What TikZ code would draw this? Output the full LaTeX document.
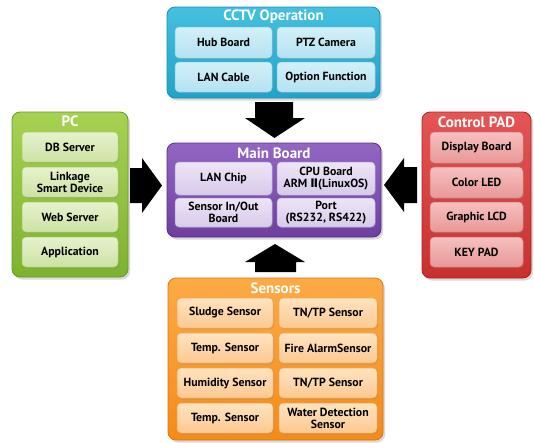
\documentclass[tikz,border=0pt]{standalone}
\usepackage{fontspec}
\setmainfont{PT Sans}
\newfontfamily\numfont{DejaVu Sans}
\usetikzlibrary{shadows}

% group colours: light top, darker bottom, border; item top, item bottom, item border
\definecolor{cyA}{HTML}{45C0DF}\definecolor{cyB}{HTML}{1FA3C9}\definecolor{cyD}{HTML}{1A8FB2}
\definecolor{cyI}{HTML}{D3F0F9}\definecolor{cyJ}{HTML}{B4E2F1}\definecolor{cyK}{HTML}{8CCDE3}
\definecolor{puA}{HTML}{9366C4}\definecolor{puB}{HTML}{6E3FA0}\definecolor{puD}{HTML}{5A2E88}
\definecolor{puI}{HTML}{EDE5F6}\definecolor{puJ}{HTML}{D7CAEA}\definecolor{puK}{HTML}{B7A2D4}
\definecolor{grA}{HTML}{A6D252}\definecolor{grB}{HTML}{7DB22F}\definecolor{grD}{HTML}{679A26}
\definecolor{grI}{HTML}{E6F2CD}\definecolor{grJ}{HTML}{CDE2A3}\definecolor{grK}{HTML}{A9CB73}
\definecolor{rdA}{HTML}{E55555}\definecolor{rdB}{HTML}{C8302F}\definecolor{rdD}{HTML}{A82525}
\definecolor{rdI}{HTML}{F6C0C0}\definecolor{rdJ}{HTML}{E99797}\definecolor{rdK}{HTML}{CF7171}
\definecolor{orA}{HTML}{FDAA45}\definecolor{orB}{HTML}{F48B18}\definecolor{orD}{HTML}{DB760B}
\definecolor{orI}{HTML}{FFE3C0}\definecolor{orJ}{HTML}{FCC991}\definecolor{orK}{HTML}{E9A866}

\tikzset{
  cont/.style n args={3}{rounded corners=8pt, top color=#1, bottom color=#2, draw=#3,
    line width=0.8pt, inner sep=0pt,
    drop shadow={shadow xshift=2pt, shadow yshift=-2.5pt, opacity=0.3}},
  item/.style n args={3}{rounded corners=4pt, top color=#1, bottom color=#2, draw=#3,
    line width=0.5pt, inner sep=0pt, align=center, text=black,
    font=\fontsize{11.8}{11.8}\selectfont\bfseries,
    drop shadow={shadow xshift=1pt, shadow yshift=-1.3pt, opacity=0.3}},
  ttl/.style={text=white, inner sep=0pt, font=\fontsize{15}{15}\selectfont\bfseries},
  blk/.style={fill=black, draw=none},
  cy/.style={item={cyI}{cyJ}{cyK}},
  pu/.style={item={puI}{puJ}{puK}},
  gr/.style={item={grI}{grJ}{grK}},
  rd/.style={item={rdI}{rdJ}{rdK}},
  or/.style={item={orI}{orJ}{orK}},
}

\begin{document}
\begin{tikzpicture}[x=1pt,y=1pt]
\useasboundingbox (0,0) rectangle (534,-442);

% ---------- CCTV Operation ----------
\node[cont={cyA}{cyB}{cyD}, minimum width=213pt, minimum height=91pt] (cctv) at (273.5,-52.5) {};
\node[ttl] (cctvT) at (273.5,-17) {CCTV Operation};
\node[cy, minimum width=97pt, minimum height=31pt] (hub) at (223.5,-42.5) {Hub Board};
\node[cy, minimum width=98pt, minimum height=31pt] (ptz) at (326,-42.5) {PTZ Camera};
\node[cy, minimum width=97pt, minimum height=30pt] (lan) at (223.5,-77) {LAN Cable};
\node[cy, minimum width=98pt, minimum height=30pt] (opt) at (326,-77) {Option Function};

% ---------- Main Board ----------
\node[cont={puA}{puB}{puD}, minimum width=214pt, minimum height=94pt] (main) at (274,-190) {};
\node[ttl] (mainT) at (274,-153) {Main Board};
\node[pu, minimum width=97pt, minimum height=33pt] (chip) at (223.5,-178.5) {LAN Chip};
\node[pu, minimum width=98pt, minimum height=33pt] (cpu) at (326,-178.5) {CPU Board\\ARM {\numfont\bfseries Ⅱ}(LinuxOS)};
\node[pu, minimum width=97pt, minimum height=29pt] (sio) at (223.5,-212.5) {Sensor In/Out\\Board};
\node[pu, minimum width=98pt, minimum height=29pt] (port) at (326,-212.5) {Port\\(RS232, RS422)};

% ---------- PC ----------
\node[cont={grA}{grB}{grD}, minimum width=116pt, minimum height=165pt] (pc) at (70,-194.5) {};
\node[ttl] (pcT) at (70,-121) {PC};
\node[gr, minimum width=96pt, minimum height=30pt] (db) at (70,-147) {DB Server};
\node[gr, minimum width=96pt, minimum height=30pt] (link) at (70,-182) {Linkage\\Smart Device};
\node[gr, minimum width=96pt, minimum height=30pt] (web) at (70,-217) {Web Server};
\node[gr, minimum width=96pt, minimum height=30pt] (app) at (70,-252) {Application};

% ---------- Control PAD ----------
\node[cont={rdA}{rdB}{rdD}, minimum width=109pt, minimum height=166pt] (pad) at (476.5,-195) {};
\node[ttl] (padT) at (476.5,-122) {Control PAD};
\node[rd, minimum width=93pt, minimum height=31pt] (disp) at (476.5,-147.5) {Display Board};
\node[rd, minimum width=93pt, minimum height=31pt] (led) at (476.5,-182.5) {Color LED};
\node[rd, minimum width=93pt, minimum height=30pt] (lcd) at (476.5,-217) {Graphic LCD};
\node[rd, minimum width=93pt, minimum height=30pt] (key) at (476.5,-252) {KEY PAD};

% ---------- Sensors ----------
\node[cont={orA}{orB}{orD}, minimum width=215pt, minimum height=162pt] (sens) at (275.5,-359) {};
\node[ttl] (sensT) at (275.5,-288) {Sensors};
\node[or, minimum width=96pt, minimum height=30pt] (s1) at (225,-313) {Sludge Sensor};
\node[or, minimum width=98pt, minimum height=30pt] (s2) at (328,-313) {TN/TP Sensor};
\node[or, minimum width=96pt, minimum height=30pt] (s3) at (225,-348) {Temp. Sensor};
\node[or, minimum width=98pt, minimum height=30pt] (s4) at (328,-348) {Fire AlarmSensor};
\node[or, minimum width=96pt, minimum height=30pt] (s5) at (225,-383) {Humidity Sensor};
\node[or, minimum width=98pt, minimum height=30pt] (s6) at (328,-383) {TN/TP Sensor};
\node[or, minimum width=96pt, minimum height=30pt] (s7) at (225,-418) {Temp. Sensor};
\node[or, minimum width=98pt, minimum height=30pt] (s8) at (328,-418) {Water Detection\\Sensor};

% ---------- block arrows into the main board ----------
% from CCTV (down)
\fill[blk] (255,-102) -- (293,-102) -- (293,-118) -- (305,-118) -- (274.5,-138)
  -- (245,-118) -- (255,-118) -- cycle;
% from Sensors (up)
\fill[blk] (255,-272) -- (296,-272) -- (296,-262) -- (305,-262) -- (275,-244)
  -- (245,-262) -- (255,-262) -- cycle;
% from PC (right)
\fill[blk] (130,-168) -- (142,-168) -- (142,-158) -- (162,-185.5) -- (142,-213)
  -- (142,-203) -- (130,-203) -- cycle;
% from Control PAD (left)
\fill[blk] (417,-167) -- (404,-167) -- (404,-158) -- (384,-185) -- (404,-212)
  -- (404,-203) -- (417,-203) -- cycle;
\end{tikzpicture}
\end{document}
